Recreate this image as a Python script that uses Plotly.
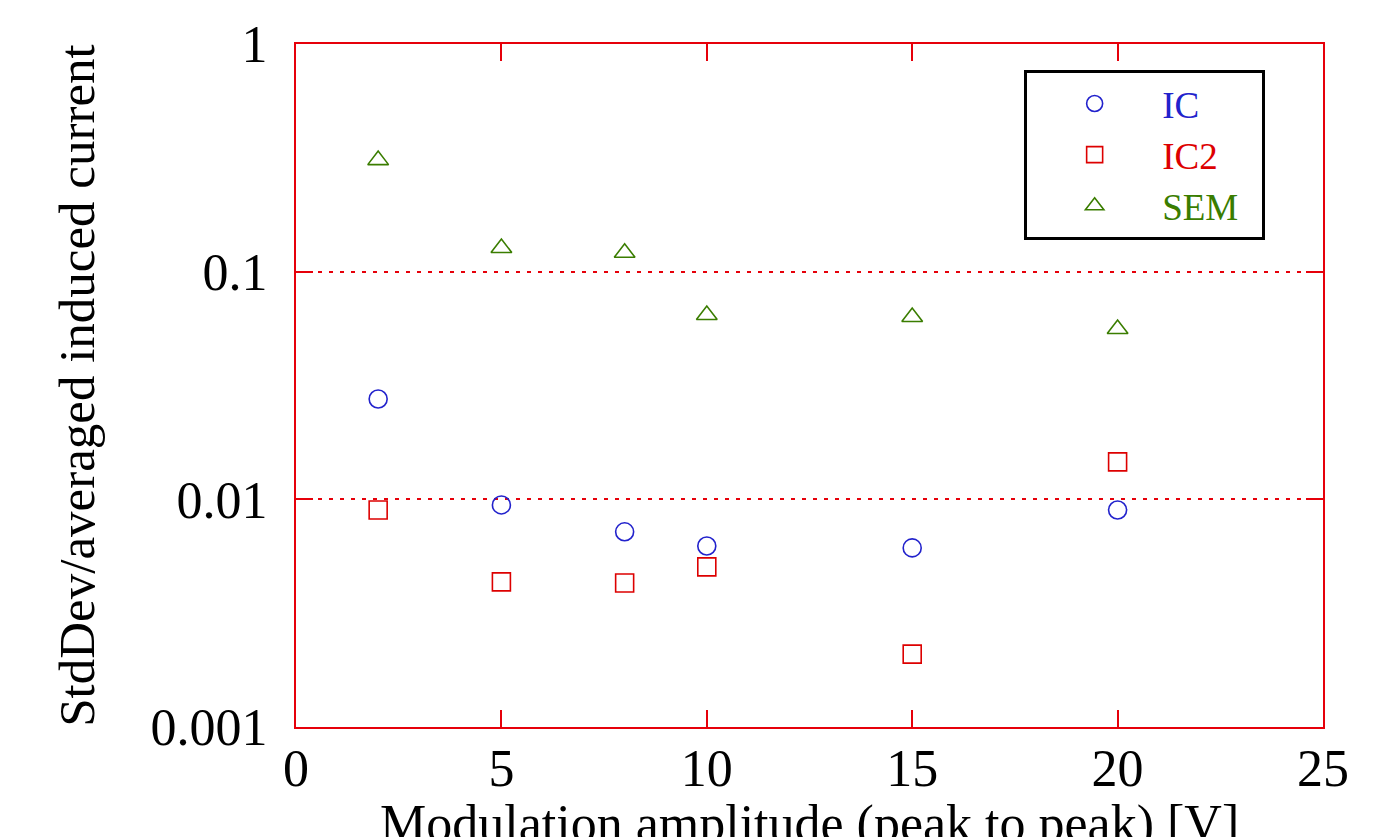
import plotly.graph_objects as go

x_vals = [2, 5, 8, 10, 15, 20]
ic_vals = [0.0276, 0.00945, 0.0072, 0.00624, 0.00612, 0.00898]
ic2_vals = [0.00898, 0.00434, 0.00429, 0.00505, 0.00209, 0.0146]
sem_vals = [0.309, 0.127, 0.121, 0.0645, 0.0632, 0.056]

y_tickvals = [0.001, 0.01, 0.1, 1]
y_ticktext = ["0.001", "0.01", "0.1", "1"]
x_tickvals = [0, 5, 10, 15, 20, 25]

RED = "#e6000a"
BLUE = "#2222cc"
IC2C = "#dd0000"
GREEN = "#3a7d00"
FONT = "Liberation Serif"

fig = go.Figure()
series = [
    ("IC", ic_vals, "circle-open", BLUE),
    ("IC2", ic2_vals, "square-open", IC2C),
    ("SEM", sem_vals, "triangle-up-open", GREEN),
]
for name, vals, sym, col in series:
    fig.add_trace(go.Scatter(
        x=x_vals, y=vals, mode="markers",
        name=f"<span style='color:{col}'>{name}</span>\u00a0\u00a0",
        marker=dict(symbol=sym, size=18, color=col, line=dict(width=1.6, color=col)),
    ))

fig.update_layout(
    width=1399, height=837,
    margin=dict(l=296, r=76, t=44, b=110),
    paper_bgcolor="white", plot_bgcolor="white",
    font=dict(family=FONT, size=52, color="black"),
    showlegend=True,
    legend=dict(
        x=0.709, y=0.962, xanchor="left", yanchor="top",
        bgcolor="white", bordercolor="black", borderwidth=3,
        font=dict(family=FONT, size=37, color="black"),
        tracegroupgap=0, itemwidth=125,
    ),
    annotations=[dict(
        text="Modulation amplitude (peak to peak) [V]",
        xref="paper", yref="paper", x=0.5, y=-0.0966,
        xanchor="center", yanchor="top", showarrow=False,
        font=dict(family=FONT, size=52, color="black"),
    )],
)
fig.update_xaxes(
    range=[0, 25], tickvals=x_tickvals, automargin=False,
    showline=True, linecolor=RED, linewidth=2, mirror="ticks",
    ticks="inside", ticklen=17, tickwidth=2, tickcolor=RED,
    showgrid=False, zeroline=False, ticklabelstandoff=-5,
    tickfont=dict(family=FONT, size=52, color="black"),
)
fig.update_yaxes(
    type="log", range=[-3, 0], tickvals=y_tickvals, ticktext=y_ticktext,
    automargin=False,
    showline=True, linecolor=RED, linewidth=2, mirror="ticks",
    ticks="inside", ticklen=17, tickwidth=2, tickcolor=RED,
    showgrid=True, gridcolor=RED, gridwidth=1.5, griddash="4px,7px",
    zeroline=False, ticklabelstandoff=16,
    tickfont=dict(family=FONT, size=52, color="black"),
    title=dict(text="StdDev/averaged induced current",
               font=dict(family=FONT, size=51, color="black"), standoff=40),
)

fig.write_html("out.html")
